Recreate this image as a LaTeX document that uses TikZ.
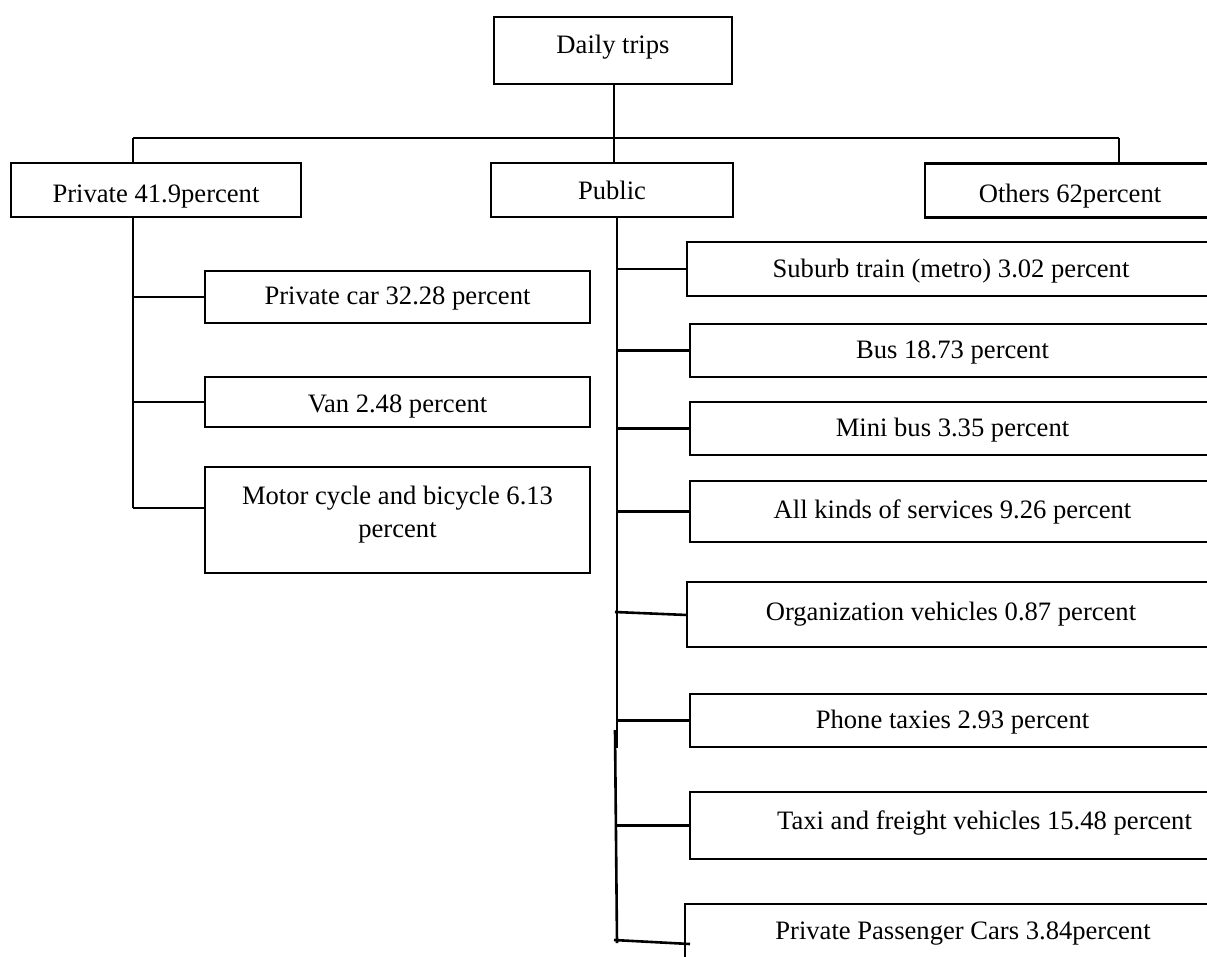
\documentclass[tikz,border=0pt]{standalone}
\usepackage{fontspec}
\setmainfont{Liberation Serif}
\begin{document}
\begin{tikzpicture}[x=1pt,y=-1pt,
  box/.style={draw, line width=2.6pt, inner sep=0pt, outer sep=0pt,
    font=\fontsize{26.6}{33}\selectfont, align=center,
    text height=19.5pt, text depth=5pt},
  dn/.style n args={2}{text height=#1, text depth=#2},
  conn/.style={line width=2.6pt}]
\path[use as bounding box] (0,0) rectangle (1207,956);
\clip (0,0) rectangle (1207,956);

% top level
\node[box, dn={15.5pt}{9pt}, minimum width=238pt, minimum height=67pt] (daily) at (613,50.5) {Daily trips};
\node[box, dn={24.5pt}{0pt}, minimum width=290pt, minimum height=54pt] (private) at (156,190) {Private 41.9percent};
\node[box, dn={21.5pt}{3pt}, minimum width=242pt, minimum height=54pt] (public) at (612,190) {Public};
\node[box, dn={24.5pt}{0pt}, minimum width=290pt, minimum height=54pt] (others) at (1070,190.5) {Others 62percent};

% private children
\node[box, minimum width=385pt, minimum height=52pt] (pcar) at (397.5,297) {Private car 32.28 percent};
\node[box, dn={22.5pt}{2pt}, minimum width=385pt, minimum height=50pt] (van) at (397.5,402) {Van 2.48 percent};
\node[box, text height=, text depth=, minimum width=385pt, minimum height=106pt] (motor) at (397.5,520) {Motor cycle and bicycle 6.13\\percent\\[-25.6pt]\strut};

% public children
\node[box, dn={20.5pt}{4pt}, minimum width=528pt, minimum height=54pt] (suburb) at (951,269) {Suburb train (metro) 3.02 percent};
\node[box, dn={20.5pt}{4pt}, minimum width=525pt, minimum height=53pt] (bus) at (952.5,350.5) {Bus 18.73 percent};
\node[box, dn={20.5pt}{4pt}, minimum width=525pt, minimum height=53pt] (mini) at (952.5,428.5) {Mini bus 3.35 percent};
\node[box, minimum width=525pt, minimum height=61pt] (allk) at (952.5,511.5) {All kinds of services 9.26 percent};
\node[box, dn={18.5pt}{6pt}, minimum width=528pt, minimum height=65pt] (org) at (951,614.5) {Organization vehicles 0.87 percent};
\node[box, dn={20.5pt}{4pt}, minimum width=525pt, minimum height=53pt] (phone) at (952.5,720.5) {Phone taxies 2.93 percent};
\node[box, dn={16.5pt}{8pt}, minimum width=525pt, minimum height=67pt] (taxi) at (952.5,825.5) {\hspace*{64pt}Taxi and freight vehicles 15.48 percent};
\node[box, dn={18.5pt}{6pt}, minimum width=530pt, minimum height=58pt] (ppc) at (950,933) {\hspace*{26pt}Private Passenger Cars 3.84percent};

% junction coordinates
\coordinate (hL) at (133,138);
\coordinate (hR) at (1119,138);
\coordinate (hM) at (614,138);
\coordinate (pt) at (133,508);
\coordinate (pu0) at (617,217);
\coordinate (pu1) at (617,748);
\coordinate (pu2) at (615,730);
\coordinate (pu3) at (617,943);
\coordinate (orgj) at (615,612);
\coordinate (orge) at (687,615);
\coordinate (ppcj) at (614,940);
\coordinate (ppce) at (690,944);

% connectors top level
\draw[conn] (daily.south -| hM) -- (hM);
\draw[conn] (hL) -- (hR);
\draw[conn] (hL) -- (hL |- private.north);
\draw[conn] (hM) -- (hM |- public.north);
\draw[conn] (hR) -- (hR |- others.north);

% private trunk and branches
\draw[conn] (hL |- private.south) -- (pt);
\draw[conn] (hL |- pcar.west) -- (pcar.west);
\draw[conn] (hL |- van.west) -- (van.west);
\draw[conn] (pt) -- (pt -| motor.west);

% public trunk and branches
\draw[conn] (pu0) -- (pu1);
\draw[conn] (pu2) -- (pu3);
\draw[conn] (pu0 |- suburb.west) -- (suburb.west);
\draw[conn] (pu0 |- bus.west) -- (bus.west);
\draw[conn] (pu0 |- mini.west) -- (mini.west);
\draw[conn] (pu0 |- allk.west) -- (allk.west);
\draw[conn] (orgj) -- (orge);
\draw[conn] (pu0 |- phone.west) -- (phone.west);
\draw[conn] (pu0 |- taxi.west) -- (taxi.west);
\draw[conn] (ppcj) -- (ppce);
\end{tikzpicture}
\end{document}
